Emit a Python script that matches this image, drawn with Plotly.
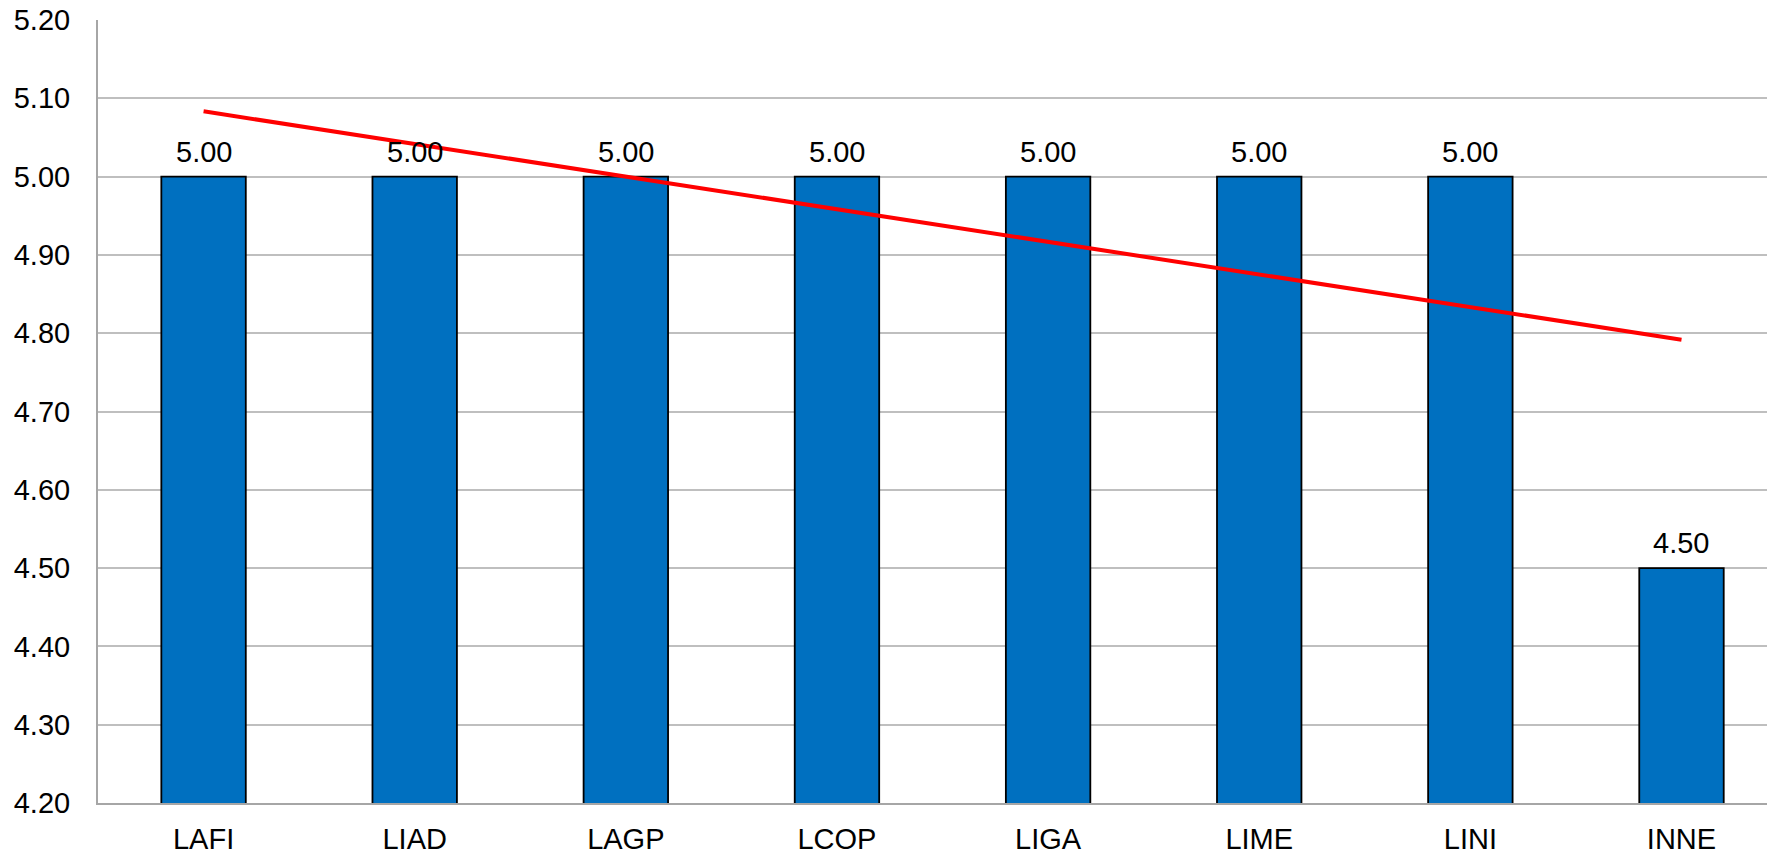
import numpy as np
import plotly.graph_objects as go

categories = ["LAFI", "LIAD", "LAGP", "LCOP", "LIGA", "LIME", "LINI", "INNE"]
values = [5.00, 5.00, 5.00, 5.00, 5.00, 5.00, 5.00, 4.50]
y_ticks = [4.20, 4.30, 4.40, 4.50, 4.60, 4.70, 4.80, 4.90, 5.00, 5.10, 5.20]

FONT = "Liberation Sans, Arial, sans-serif"
FS = 29

# linear trendline (least squares over category index)
idx = np.arange(1, len(values) + 1)
slope, intercept = np.polyfit(idx, values, 1)
trend = slope * idx + intercept

fig = go.Figure()
fig.add_trace(go.Bar(
    x=categories, y=values,
    marker=dict(color="#0070C0", line=dict(color="#000000", width=1.8)),
    showlegend=False, hoverinfo="x+y",
))
fig.add_trace(go.Scatter(
    x=categories, y=trend, mode="lines",
    line=dict(color="#FF0000", width=4),
    showlegend=False, hoverinfo="skip",
))

for c, v in zip(categories, values):
    fig.add_annotation(
        x=c, y=v, text=f"{v:.2f}", showarrow=False,
        yanchor="bottom", yshift=7,
        font=dict(family=FONT, size=FS, color="#000000"),
    )

fig.update_layout(
    width=1767, height=855,
    margin=dict(l=98, r=0, t=20, b=48),
    plot_bgcolor="#FFFFFF", paper_bgcolor="#FFFFFF",
    bargap=0.6,
    font=dict(family=FONT, size=FS, color="#000000"),
)
fig.update_xaxes(
    type="category", range=[-0.5, 7.405],
    showline=True, linecolor="#A6A6A6", linewidth=2,
    showgrid=False, ticks="", ticklabelstandoff=9,
    tickfont=dict(family=FONT, size=FS, color="#000000"),
    fixedrange=True,
)
fig.update_yaxes(
    range=[4.2, 5.2], tickvals=y_ticks, ticktext=[f"{t:.2f}" for t in y_ticks],
    showline=True, linecolor="#A6A6A6", linewidth=2,
    showgrid=True, gridcolor="#BFBFBF", gridwidth=1.5,
    zeroline=False, ticks="", ticklabelstandoff=20,
    tickfont=dict(family=FONT, size=FS, color="#000000"),
    fixedrange=True,
)

fig.write_html(
    "out.html",
    config={"displayModeBar": False},
    post_script="document.body.style.margin='0';document.body.style.overflow='hidden';",
)
